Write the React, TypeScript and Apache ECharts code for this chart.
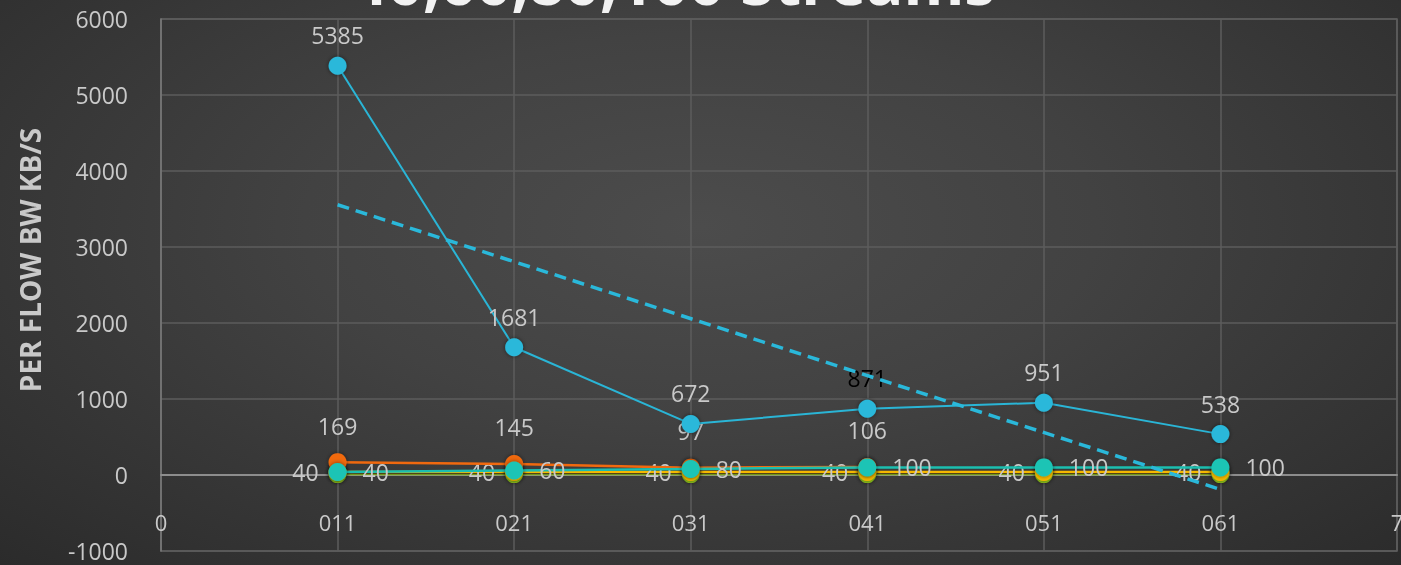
import React, { useEffect, useRef } from "react";
import * as echarts from "echarts";

const xPositions = [1, 2, 3, 4, 5, 6];
const cyanValues = [5385, 1681, 672, 871, 951, 538];
const orangeValues = [169, 145, 97, 106];
const tealValues = [40, 60, 80, 100, 100, 100];
const yellowValues = [40, 40, 40, 40, 40, 40];
const darkValues = [25, 25, 25, 25, 25, 25];
const greenValues = [12, 12, 12, 12, 12, 12];
const yTicks = { min: -1000, max: 6000, interval: 1000 };
const titleText = "40,60,80,100 Streams";
const yAxisTitle = "PER FLOW BW KB/S";

const FONT = "'Open Sans', 'Noto Sans', sans-serif";
const LABEL = "#c9c9c9";

function pairs(vals: number[]) {
  return vals.map((v, i) => [xPositions[i], v]);
}

function trend(vals: number[]) {
  const n = vals.length;
  const xs = xPositions.slice(0, n);
  const mx = xs.reduce((a, b) => a + b, 0) / n;
  const my = vals.reduce((a, b) => a + b, 0) / n;
  let sxy = 0;
  let sxx = 0;
  for (let i = 0; i < n; i++) {
    sxy += (xs[i] - mx) * (vals[i] - my);
    sxx += (xs[i] - mx) * (xs[i] - mx);
  }
  const slope = sxy / sxx;
  const b = my - slope * mx;
  return [
    [xs[0], slope * xs[0] + b],
    [xs[n - 1], slope * xs[n - 1] + b],
  ];
}

export default function App() {
  const ref = useRef<HTMLDivElement>(null);
  useEffect(() => {
    if (!ref.current) return;
    const chart = echarts.init(ref.current, undefined, { renderer: "svg" });
    const sym = (color: string) => ({
      color,
      shadowColor: "rgba(0,0,0,0.5)",
      shadowBlur: 4,
    });
    const labelBase = {
      show: true,
      color: LABEL,
      fontSize: 23,
      fontFamily: FONT,
    };
    chart.setOption({
      animation: false,
      backgroundColor: "transparent",
      grid: {
        left: 161,
        right: 4,
        top: 19,
        bottom: 14,
        containLabel: false,
        outerBoundsMode: "none",
        show: true,
        borderColor: "#5e5e5e",
        borderWidth: 1.5,
      },
      graphic: [
        {
          type: "text",
          left: 352,
          top: -50,
          style: {
            text: titleText,
            fill: "#f2f2f2",
            font: `bold 62px ${FONT}`,
            shadowColor: "rgba(0,0,0,0.6)",
            shadowBlur: 4,
            shadowOffsetY: 2,
          },
        },
        {
          type: "text",
          x: 30,
          y: 260,
          rotation: Math.PI / 2,
          style: {
            text: yAxisTitle,
            fill: LABEL,
            font: `bold 28px ${FONT}`,
            align: "center",
            verticalAlign: "middle",
          },
        },
      ],
      xAxis: {
        type: "value",
        min: 0,
        max: 7,
        interval: 1,
        axisLine: { show: true, onZero: true, lineStyle: { color: "#8d8d8d", width: 2 } },
        axisTick: { show: false },
        splitLine: { show: true, lineStyle: { color: "#5c5c5c", width: 1.5 } },
        axisLabel: {
          color: LABEL,
          fontSize: 22,
          fontFamily: FONT,
          margin: -40,
          showMinLabel: true,
          showMaxLabel: true,
          formatter: (v: number) => (v === 0 || v === 7 ? String(v) : "0" + v + "1"),
        },
      },
      yAxis: {
        type: "value",
        min: yTicks.min,
        max: yTicks.max,
        interval: yTicks.interval,
        axisLine: { show: true, lineStyle: { color: "#7a7a7a", width: 1.5 } },
        axisTick: { show: false },
        splitLine: { show: true, lineStyle: { color: "#5c5c5c", width: 1.5 } },
        axisLabel: {
          color: LABEL,
          fontSize: 23,
          fontFamily: FONT,
          margin: 33,
          formatter: (v: number) => String(v),
        },
      },
      series: [
        {
          name: "green",
          type: "line",
          data: pairs(greenValues),
          symbol: "circle",
          symbolSize: 18,
          lineStyle: { color: "#8ec21a", width: 2.5 },
          itemStyle: sym("#8ec21a"),
          z: 2,
        },
        {
          name: "dark",
          type: "line",
          data: pairs(darkValues),
          symbol: "none",
          lineStyle: { color: "#1e1e1e", width: 2.5 },
          z: 2,
        },
        {
          name: "yellow",
          type: "line",
          data: pairs(yellowValues),
          symbol: "circle",
          symbolSize: 18,
          lineStyle: { color: "#f5b800", width: 2.5 },
          itemStyle: sym("#f5b800"),
          label: { ...labelBase, position: "left", distance: 10 },
          z: 2,
        },
        {
          name: "orange",
          type: "line",
          data: pairs(orangeValues),
          symbol: "circle",
          symbolSize: 18,
          lineStyle: { color: "#f0690f", width: 2.5 },
          itemStyle: sym("#f0690f"),
          label: { ...labelBase, position: "top", distance: 16 },
          z: 3,
        },
        {
          name: "teal",
          type: "line",
          data: pairs(tealValues),
          symbol: "circle",
          symbolSize: 18,
          lineStyle: { color: "#1bbfb0", width: 2.5 },
          itemStyle: sym("#1bc4b5"),
          label: { ...labelBase, position: "right", distance: 16 },
          z: 4,
        },
        {
          name: "cyan",
          type: "line",
          data: pairs(cyanValues).map((p, i) =>
            i === 3 ? { value: p, label: { color: "#000000" } } : p
          ),
          symbol: "circle",
          symbolSize: 18,
          lineStyle: { color: "#2ab5d6", width: 2 },
          itemStyle: sym("#2ab8da"),
          label: { ...labelBase, position: "top", distance: 10 },
          z: 5,
        },
        {
          name: "trend",
          type: "line",
          data: trend(cyanValues),
          symbol: "none",
          lineStyle: { color: "#2ab8da", width: 3.5, type: [12, 7] },
          z: 6,
        },
      ],
    });
    return () => chart.dispose();
  }, []);
  return (
    <div
      style={{
        position: "fixed",
        left: 0,
        top: 0,
        width: 1401,
        height: 565,
        background:
          "radial-gradient(ellipse at 50% 40%, #4c4c4c 0%, #424242 40%, #2b2b2b 100%)",
      }}
    >
      <div ref={ref} style={{ width: 1401, height: 565 }} />
    </div>
  );
}
